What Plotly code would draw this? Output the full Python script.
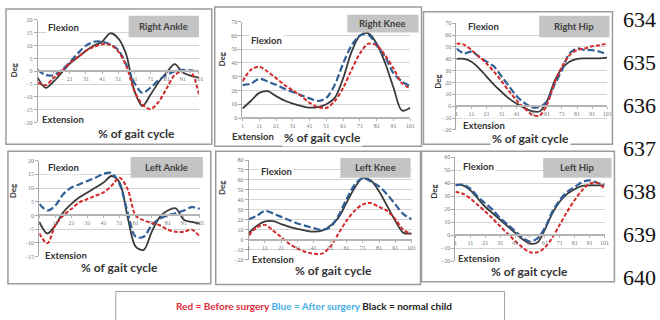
import plotly.graph_objects as go

# ---------------- data ----------------
GAIT = [1, 6, 11, 16, 21, 26, 31, 36, 41, 46, 51, 56, 61, 66, 71, 76, 81, 86, 91, 96, 101]
X_TICKS = [1, 11, 21, 31, 41, 51, 61, 71, 81, 91, 101]

PANEL_TITLES = ["Right Ankle", "Right Knee", "Right Hip", "Left Ankle", "Left Knee", "Left Hip"]

# Right Ankle
RA_BLACK = [-2.5, -6.5, -4, -0.5, 3, 5.5, 8, 10, 11.5, 14.8, 12.8, 6.4, -7.7, -13.6, -9.2, -4.3, -0.5, 2.8, -0.5, -1.8, -2.5]
RA_RED = [-4.5, -5.5, -2.5, 0, 3.2, 5.5, 8, 9.5, 10.5, 10.3, 7.7, 2, -7.7, -13, -14.8, -12, -6.7, -1.5, 0, -0.3, -9]
RA_BLUE = [0.5, -1.5, -1.5, 0.5, 3.5, 7, 10, 11.5, 11.5, 10.5, 8.3, 2.5, -4.5, -8.5, -6.4, -3.5, -1.5, 0, 0.5, 0.3, -0.5]
# Right Knee
RK_BLACK = [7, 12.4, 18.3, 19.5, 16, 12.8, 10.5, 8.8, 7.6, 8, 10, 14.7, 29, 48, 60, 61.5, 54, 40, 22, 5.5, 7.5]
RK_RED = [26.6, 35, 37.3, 33.7, 29, 24.2, 20, 16, 11, 8, 7.3, 12.4, 22, 35, 47, 54, 52.7, 45.6, 36, 25.4, 21.4]
RK_BLUE = [24, 25, 28.5, 26.6, 24.2, 21.4, 19, 16.6, 14.3, 12.4, 14.7, 24.2, 39.7, 52.7, 60, 60.5, 52.7, 44.4, 32.5, 26.6, 23]
# Right Hip
RH_BLACK = [40, 40, 37.6, 32, 25, 18, 12, 6.4, 2, -1.4, -4.2, -4.5, 4, 21, 32, 37.6, 40, 40.4, 40.4, 40.4, 41]
RH_RED = [53, 52, 47.4, 41.8, 36, 29, 21, 12.5, 4.7, -1.4, -7, -8, 1.4, 19.5, 33.4, 43, 47.4, 48.7, 50.7, 51.5, 53]
RH_BLUE = [48.7, 44.6, 46, 41.8, 37.6, 33.4, 25, 16.7, 8.4, 2.8, -0.8, -0.8, 4, 18, 30.6, 44.6, 48.7, 47.4, 47.4, 46, 43.7]
# Left Ankle
LA_BLACK = [-2.4, -6.6, -3.6, 1.2, 4.2, 6.6, 8.4, 10.2, 12, 14.4, 12, -0.6, -11.4, -12.6, -6, -0.6, 1.8, 2.6, -1.6, -2.4, -3]
LA_RED = [-6.6, -10.2, -3.6, 0, 2.4, 4.8, 6, 7.2, 8.4, 10.8, 13.8, 9.6, 0, -1.8, -2.8, -3.6, -5.2, -6, -6, -5.2, -7.8]
LA_BLUE = [4.2, 1.8, 3.6, 7.8, 10.2, 11.4, 12.6, 13.8, 15.2, 15.5, 11.4, 1.2, -7.8, -7.8, -3.6, -1.2, 0, 0.8, 1.8, 3, 2.4]
# Left Knee
LK_BLACK = [6.6, 14, 18.4, 18.8, 15.8, 13, 10.9, 9.2, 8.2, 9.2, 14, 22, 37, 52, 62, 59.5, 48.7, 34, 19, 7, 6.5]
LK_RED = [4.3, 12.5, 15, 9.2, 2.6, -4, -8.9, -12.2, -13.8, -13.8, -7.2, 6, 19, 29, 35.5, 36.8, 33, 29, 20.7, 10, 6]
LK_BLUE = [20.7, 24, 29, 26.3, 23, 19.7, 16.4, 14, 11.8, 9.9, 12.5, 24, 40.5, 55, 62, 58.5, 53.6, 45.4, 35.5, 25.7, 20.7]
# Left Hip
LH_BLACK = [39, 38.5, 34.7, 28.4, 22, 17, 12, 7, 2, -3, -6.3, -5.5, 4.5, 17, 26, 32, 35.5, 38, 38.5, 38.5, 38.5]
LH_RED = [33.5, 32, 28.4, 23.4, 18.4, 12.8, 7, 1.3, -4.3, -9.3, -13, -13, -9.3, -1.8, 8.3, 18.4, 27.2, 34.7, 39.7, 40.5, 36]
LH_BLUE = [38.5, 39, 36, 29.7, 24.7, 19.6, 13.3, 8.3, 3.3, -1.8, -4.8, -2.3, 5.8, 18.4, 27.2, 33.5, 37.2, 41, 42.3, 40.5, 39]

SERIES = [
    (RA_BLACK, RA_BLUE, RA_RED),
    (RK_BLACK, RK_BLUE, RK_RED),
    (RH_BLACK, RH_BLUE, RH_RED),
    (LA_BLACK, LA_BLUE, LA_RED),
    (LK_BLACK, LK_BLUE, LK_RED),
    (LH_BLACK, LH_BLUE, LH_RED),
]
Y_RANGES = [(-20, 20, 5), (0, 70, 10), (-20, 70, 10), (-15, 20, 5), (-20, 80, 10), (-20, 60, 10)]
LINE_NUMBERS = ["634", "635", "636", "637", "638", "639", "640"]

# ---------------- layout (pixels) ----------------
W, H = 660, 320
LAYOUT = [
    dict(box=(4, 6, 212, 144), px=(36, 199), py=(17.3, 121.7), tb=(128, 13, 199, 35),
         flex=(62, 25), ext=(62, 119), gait=(136, 133), deg=(12, 68)),
    dict(box=(215, 4, 424, 146), px=(243, 412.7), py=(19, 117.3), tb=(349, 12, 421, 30),
         flex=(267, 38), ext=(254, 136), gait=(324, 137), deg=(222, 57)),
    dict(box=(426, 9, 617, 144), px=(459.3, 611.7), py=(20.7, 129.3), tb=(543, 13, 614, 35),
         flex=(487, 24), ext=(487, 124.5), gait=(534, 138.5), deg=(440, 80)),
    dict(box=(6, 151, 211, 286), px=(37.7, 200), py=(160.7, 258.3), tb=(130, 157, 203, 178),
         flex=(62, 168), ext=(65, 257), gait=(119, 270), deg=(12, 191)),
    dict(box=(216, 151, 423, 287), px=(249.3, 414), py=(160, 261.7), tb=(342, 158, 413, 178),
         flex=(277, 172), ext=(274, 261), gait=(335, 273), deg=(223, 188)),
    dict(box=(424, 151, 619, 284), px=(458.3, 609), py=(157.3, 263.3), tb=(547, 158, 616, 178),
         flex=(482, 167), ext=(482, 260.5), gait=(533, 274), deg=(437, 192)),
]

BLACK = "#3a3a3a"
BLUE = "#2f5f96"
RED = "#d42a2a"
FONT = "Lato"


def fx(p):
    return p / W


def fy(p):
    return 1 - p / H


fig = go.Figure()
layout = dict(width=W, height=H, margin=dict(l=0, r=0, t=0, b=0),
              paper_bgcolor="white", plot_bgcolor="white", showlegend=False)
shapes = []
annotations = []


def note(text, cx, cy, size, color="#333333", **kw):
    d = dict(text=text, x=fx(cx), y=fy(cy), xref="paper", yref="paper", showarrow=False,
             xanchor="center", yanchor="middle", font=dict(family=FONT, size=size, color=color))
    d.update(kw)
    return d


for i, (lay, (blk, blu, red), (ymin, ymax, dt), title) in enumerate(zip(LAYOUT, SERIES, Y_RANGES, PANEL_TITLES)):
    n = i + 1
    xa = "x" if n == 1 else f"x{n}"
    ya = "y" if n == 1 else f"y{n}"
    xk = "xaxis" if n == 1 else f"xaxis{n}"
    yk = "yaxis" if n == 1 else f"yaxis{n}"

    for vals, color, dash, width in [(blk, BLACK, "solid", 1.8), (blu, BLUE, "7px,3px", 2.2), (red, RED, "4px,2px", 2.0)]:
        fig.add_trace(go.Scatter(x=GAIT, y=vals, xaxis=xa, yaxis=ya, mode="lines",
                                 line=dict(color=color, dash=dash, width=width, shape="spline", smoothing=0.9),
                                 hoverinfo="skip"))

    ptop, pbot = lay["py"]
    pzero = ptop + (ymax - 0) / (ymax - ymin) * (pbot - ptop)
    layout[xk] = dict(domain=[fx(lay["px"][0]), fx(lay["px"][1])], range=[1, 101], anchor="free",
                      position=fy(pzero), tickvals=X_TICKS, showgrid=False, zeroline=False,
                      showline=True, linecolor="#b5b5b5", linewidth=1.5, ticks="outside", ticklen=2,
                      tickcolor="#b5b5b5", tickfont=dict(family="Liberation Serif", size=6, color="#777777"))
    layout[yk] = dict(domain=[fy(pbot), fy(ptop)], range=[ymin, ymax], anchor=xa,
                      tickvals=list(range(ymin, ymax + 1, dt)), showgrid=True, gridcolor="#d4d4d4",
                      gridwidth=1, zeroline=False, showline=True, linecolor="#a8a8a8", linewidth=1,
                      ticks="outside", ticklen=3, tickcolor="#a8a8a8",
                      tickfont=dict(family="Liberation Serif", size=6, color="#777777"))

    bx0, by0, bx1, by1 = lay["box"]
    shapes.append(dict(type="rect", xref="paper", yref="paper", x0=fx(bx0), x1=fx(bx1), y0=fy(by1), y1=fy(by0),
                       line=dict(color="#9c9c9c", width=1.5), fillcolor="rgba(0,0,0,0)", layer="above"))
    tx0, ty0, tx1, ty1 = lay["tb"]
    shapes.append(dict(type="rect", xref="paper", yref="paper", x0=fx(tx0), x1=fx(tx1), y0=fy(ty1), y1=fy(ty0),
                       line=dict(width=0), fillcolor="#c4c4c4", layer="above"))
    annotations.append(note(f"<b>{title}</b>", (tx0 + tx1) / 2, (ty0 + ty1) / 2, 9.5, "#404040"))
    for key, txt, size in [("flex", "Flexion", 9.5), ("ext", "Extension", 9.5), ("gait", "% of gait cycle", 12)]:
        cx, cy = lay[key]
        annotations.append(note(f"<b>{txt}</b>", cx, cy, size, bgcolor="white", borderpad=1))
    cx, cy = lay["deg"]
    annotations.append(note("<b>Deg</b>", cx, cy, 8, textangle=-90))

# line numbers on the right
for k, num in enumerate(LINE_NUMBERS):
    annotations.append(dict(text=num, x=fx(626), y=fy(17 + 43.8 * k), xref="paper", yref="paper",
                            xanchor="left", yanchor="middle", showarrow=False,
                            font=dict(family="Liberation Serif", size=22, color="#111111")))

# legend box
shapes.append(dict(type="rect", xref="paper", yref="paper", x0=fx(115), x1=fx(508), y0=fy(330), y1=fy(294),
                   line=dict(color="#a0a0a0", width=1), fillcolor="white", layer="above"))
legend_text = ("<b><span style='color:#dc2b3c'>Red = Before surgery</span> "
               "<span style='color:#43aee6'>Blue = After surgery</span> "
               "<span style='color:#222222'>Black = normal child</span></b>")
annotations.append(note(legend_text, 315, 309, 10))

layout["shapes"] = shapes
layout["annotations"] = annotations
fig.update_layout(**layout)
fig.write_html("out.html")
